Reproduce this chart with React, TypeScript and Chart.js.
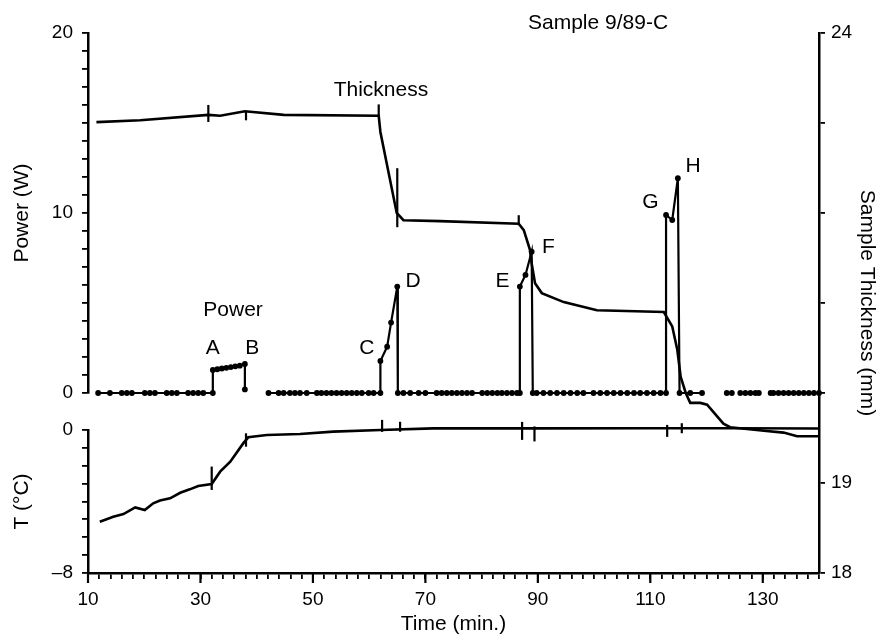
import React, { useEffect, useRef } from 'react';
import { Chart, registerables } from 'chart.js';

Chart.register(...registerables);

const FONT = '"Liberation Sans", Arial, Helvetica, sans-serif';

// ---- Data (time in minutes) ----
// Power (W); null = break in the trace
const powerReadings: [number, number | null][] = [
  [11.8, 0], [13.9, 0], [16.0, 0], [16.9, 0], [17.8, 0], [20.1, 0], [21.0, 0], [21.9, 0],
  [24.0, 0], [24.9, 0], [25.8, 0], [27.8, 0], [28.7, 0], [29.6, 0], [30.5, 0], [32.2, 0],
  [32.2, 1.28], [33.0, 1.32], [33.8, 1.36], [34.6, 1.4], [35.4, 1.44], [36.2, 1.48], [37.0, 1.52], [37.9, 1.61], [37.9, 0.2],
  [40.0, null],
  [42.1, 0], [43.9, 0], [44.8, 0], [45.9, 0], [46.8, 0], [47.7, 0], [48.9, 0], [50.7, 0], [51.5, 0], [52.4, 0],
  [53.3, 0], [54.2, 0], [55.1, 0], [56.0, 0], [56.9, 0], [57.8, 0], [58.7, 0], [59.9, 0], [60.8, 0], [62.0, 0],
  [62.0, 1.78], [63.2, 2.57], [63.9, 3.91], [65.0, 5.91], [65.1, 0],
  [66.1, 0], [67.3, 0], [68.8, 0], [70.0, 0], [72.0, 0], [72.9, 0], [73.8, 0], [74.7, 0], [75.6, 0], [76.5, 0],
  [77.4, 0], [78.3, 0], [80.1, 0], [81.0, 0], [81.9, 0], [82.8, 0], [83.6, 0], [84.5, 0], [85.4, 0], [86.3, 0], [86.8, 0],
  [86.8, 5.91], [87.8, 6.56], [88.9, 7.85], [89.1, 0],
  [89.8, 0], [91.0, 0], [92.2, 0], [93.4, 0], [94.6, 0], [95.8, 0], [97.0, 0], [98.1, 0], [99.9, 0], [101.1, 0],
  [102.3, 0], [103.5, 0], [104.7, 0], [105.9, 0], [107.1, 0], [108.2, 0], [109.4, 0], [110.6, 0], [111.8, 0], [112.8, 0],
  [112.8, 9.89], [113.9, 9.61], [114.9, 11.93], [115.2, 0],
  [117.1, 0], [119.2, 0], [121.0, null], [123.6, 0], [124.5, 0], [125.3, null],
  [126.0, 0], [126.9, 0], [127.8, 0], [128.7, 0], [129.3, 0], [130.4, null],
  [131.4, 0], [131.9, 0], [132.8, 0], [133.7, 0], [134.6, 0], [135.5, 0], [136.4, 0], [137.3, 0], [138.2, 0], [139.1, 0], [140.0, 0],
];

// Sample thickness (mm)
const thicknessReadings: [number, number][] = [
  [11.5, 23.01], [19.3, 23.03], [31.4, 23.09], [33.5, 23.08], [37.9, 23.13], [44.8, 23.09], [61.7, 23.08],
  [62.0, 22.9], [64.9, 22.0], [66.1, 21.92], [72.6, 21.91], [86.6, 21.88], [87.5, 21.81], [88.6, 21.59],
  [88.9, 21.44], [89.5, 21.22], [90.7, 21.11], [94.6, 21.01], [100.5, 20.92], [112.4, 20.9], [113.9, 20.74],
  [114.8, 20.48], [115.4, 20.18], [116.3, 20.0], [117.1, 19.89], [118.9, 19.89], [120.1, 19.87], [123.0, 19.66],
  [124.2, 19.62], [130.2, 19.58], [133.7, 19.56], [136.1, 19.52], [139.9, 19.52],
];

// Temperature (°C)
const temperatureReadings: [number, number][] = [
  [12.1, -5.13], [14.5, -4.85], [16.3, -4.7], [18.4, -4.33], [20.1, -4.48], [21.6, -4.1], [22.8, -3.95],
  [24.6, -3.82], [26.4, -3.51], [28.1, -3.32], [29.6, -3.13], [32.0, -3.02], [33.5, -2.33], [35.3, -1.77],
  [37.6, -0.75], [38.5, -0.41], [41.8, -0.28], [47.7, -0.22], [53.6, -0.09], [62.0, 0.0], [71.4, 0.09],
  [90.0, 0.09], [110.0, 0.1], [125.0, 0.1], [140.0, 0.08],
];

// Event markers (A..H) on the thickness and temperature traces
const thicknessMarkTimes = [31.4, 38.1, 61.7, 65.0, 86.6];
const thicknessMarkValues = [23.106, 23.08, 23.14, 22.17, 21.92];
const temperatureMarkTimes = [32.0, 38.1, 62.3, 65.5, 87.2, 89.4, 113.0, 115.6];
const temperatureMarkValues = [-2.7, -0.56, 0.23, 0.18, -0.05, -0.22, -0.05, 0.1];

// Marker half-lengths (px) – styling only
const thicknessMarkSizes = [8.5, 4.5, 6, 29.5, 5];
const temperatureMarkSizes = [11.7, 6.7, 6, 5, 9, 7.5, 6, 5];

// Annotations (time, power position)
const noteTexts = ['Sample 9/89-C', 'Thickness', 'Power', 'A', 'B', 'C', 'D', 'E', 'F', 'G', 'H'];
const noteTimes = [100.7, 62.1, 35.8, 32.2, 39.2, 59.6, 67.8, 83.7, 91.9, 110.0, 117.6];
const notePowers = [20.56, 16.8, 4.6, 2.5, 2.5, 2.5, 6.2, 6.2, 8.1, 10.6, 12.6];

// Axis ticks
const xMinorTicks = Array.from({ length: 66 }, (_, i) => 10 + 2 * i);
const xTickLabels = [10, 30, 50, 70, 90, 110, 130];
const powerTicks = Array.from({ length: 21 }, (_, i) => i);
const powerTickLabels = [0, 10, 20];
const tempTicks = [-8, -7, -6, -5, -4, -3, -2, -1, 0];
const tempTickLabels = [-8, 0];
const thickTicks = [18, 19, 20, 21, 22, 23, 24];
const thickTickLabels = [18, 19, 24];

const BLACK = '#000';

const annotationPlugin = {
  id: 'notes',
  afterDatasetsDraw(chart: any) {
    const { ctx, scales } = chart;
    const x = scales.x;
    const y = scales.yP;
    ctx.save();
    ctx.fillStyle = BLACK;
    ctx.font = `21px ${FONT}`;
    ctx.textAlign = 'center';
    ctx.textBaseline = 'middle';
    noteTexts.forEach((t, i) => {
      ctx.fillText(t, x.getPixelForValue(noteTimes[i]), y.getPixelForValue(notePowers[i]));
    });
    ctx.restore();
  },
};

const majorTickPlugin = {
  id: 'majorTicks',
  afterDraw(chart: any) {
    const { ctx, scales } = chart;
    const x = scales.x;
    ctx.save();
    ctx.strokeStyle = BLACK;
    ctx.lineWidth = 2.2;
    xTickLabels.forEach((v) => {
      const px = x.getPixelForValue(v);
      ctx.beginPath();
      ctx.moveTo(px, x.top);
      ctx.lineTo(px, x.top + 10);
      ctx.stroke();
    });
    ctx.restore();
  },
};

const tickFont = { family: FONT, size: 19 };
const titleFont = { family: FONT, size: 21 };

export default function App() {
  const ref = useRef<HTMLCanvasElement>(null);

  useEffect(() => {
    const canvas = ref.current;
    if (!canvas) return;

    const setTicks = (vals: number[]) => (s: any) => {
      s.ticks = vals.map((v) => ({ value: v }));
    };
    const labelIf = (labels: number[], fmt?: (v: number) => string) => (v: any) =>
      labels.includes(Number(v)) ? (fmt ? fmt(Number(v)) : String(v)) : '';

    const chart = new Chart(canvas, {
      type: 'line',
      data: {
        datasets: [
          {
            label: 'Power',
            yAxisID: 'yP',
            data: powerReadings.map(([t, w]) => ({ x: t, y: w })),
            borderColor: BLACK,
            backgroundColor: BLACK,
            borderWidth: 2.2,
            pointRadius: 2.9,
            pointBorderWidth: 0,
            pointBackgroundColor: BLACK,
            spanGaps: false,
            tension: 0,
            clip: false,
          } as any,
          {
            label: 'Thickness',
            yAxisID: 'yTh',
            data: thicknessReadings.map(([t, v]) => ({ x: t, y: v })),
            borderColor: BLACK,
            borderWidth: 2.6,
            pointRadius: 0,
            tension: 0,
            clip: false,
          } as any,
          {
            label: 'Temperature',
            yAxisID: 'yT',
            data: temperatureReadings.map(([t, v]) => ({ x: t, y: v })),
            borderColor: BLACK,
            borderWidth: 2.6,
            pointRadius: 0,
            tension: 0,
            clip: false,
          } as any,
          {
            label: 'Thickness events',
            yAxisID: 'yTh',
            data: thicknessMarkTimes.map((t, i) => ({ x: t, y: thicknessMarkValues[i] })),
            showLine: false,
            pointStyle: 'line',
            rotation: 90,
            pointRadius: thicknessMarkSizes,
            pointBorderColor: BLACK,
            pointBorderWidth: 2.2,
            clip: false,
          } as any,
          {
            label: 'Temperature events',
            yAxisID: 'yT',
            data: temperatureMarkTimes.map((t, i) => ({ x: t, y: temperatureMarkValues[i] })),
            showLine: false,
            pointStyle: 'line',
            rotation: 90,
            pointRadius: temperatureMarkSizes,
            pointBorderColor: BLACK,
            pointBorderWidth: 2.2,
            clip: false,
          } as any,
        ],
      },
      options: {
        responsive: false,
        animation: false,
        events: [],
        layout: { padding: { left: 0, right: 0, top: 33, bottom: 0 } },
        plugins: { legend: { display: false }, tooltip: { enabled: false } },
        scales: {
          x: {
            type: 'linear',
            position: 'bottom',
            min: 10,
            max: 140,
            afterBuildTicks: setTicks(xMinorTicks),
            afterFit: (s: any) => {
              s.height = 64;
            },
            ticks: {
              autoSkip: false,
              maxRotation: 0,
              padding: 9,
              color: BLACK,
              font: tickFont,
              callback: labelIf(xTickLabels),
            },
            grid: { drawOnChartArea: false, drawTicks: true, tickLength: 6, color: BLACK, lineWidth: 1.8 },
            border: { display: true, color: BLACK, width: 2.5 },
            title: { display: true, text: 'Time (min.)', color: BLACK, font: titleFont, padding: { top: 0, bottom: 0 } },
          },
          yT: {
            type: 'linear',
            position: 'left',
            stack: 'left',
            stackWeight: 143,
            min: -8,
            max: 0,
            afterBuildTicks: setTicks(tempTicks),
            afterFit: (s: any) => {
              s.width = 88;
            },
            ticks: {
              autoSkip: false,
              padding: 9,
              color: BLACK,
              font: tickFont,
              callback: labelIf(tempTickLabels, (v) => (v < 0 ? '\u2013' + Math.abs(v) : String(v))),
            },
            grid: { drawOnChartArea: false, drawTicks: true, tickLength: 6, color: BLACK, lineWidth: 1.8 },
            border: { display: true, color: BLACK, width: 2.5 },
            title: { display: true, text: 'T (°C)', color: BLACK, font: titleFont, padding: { top: 10, bottom: 0 } },
          },
          yGap: {
            type: 'linear',
            position: 'left',
            stack: 'left',
            stackWeight: 37,
            min: 0,
            max: 1,
            afterFit: (s: any) => {
              s.width = 88;
            },
            ticks: { display: false },
            grid: { display: false, drawTicks: false },
            border: { display: false },
          },
          yP: {
            type: 'linear',
            position: 'left',
            stack: 'left',
            stackWeight: 360,
            min: 0,
            max: 20,
            afterBuildTicks: setTicks(powerTicks),
            afterFit: (s: any) => {
              s.width = 88;
            },
            ticks: {
              autoSkip: false,
              padding: 9,
              color: BLACK,
              font: tickFont,
              callback: labelIf(powerTickLabels),
            },
            grid: { drawOnChartArea: false, drawTicks: true, tickLength: 6, color: BLACK, lineWidth: 1.8 },
            border: { display: true, color: BLACK, width: 2.5 },
            title: { display: true, text: 'Power (W)', color: BLACK, font: titleFont, padding: { top: 10, bottom: 0 } },
          },
          yTh: {
            type: 'linear',
            position: 'right',
            min: 18,
            max: 24,
            afterBuildTicks: setTicks(thickTicks),
            afterFit: (s: any) => {
              s.width = 58;
            },
            ticks: {
              autoSkip: false,
              padding: 6,
              color: BLACK,
              font: tickFont,
              callback: labelIf(thickTickLabels),
            },
            grid: { drawOnChartArea: false, drawTicks: true, tickLength: 6, color: BLACK, lineWidth: 1.8 },
            border: { display: true, color: BLACK, width: 2.5 },
            title: {
              display: true,
              text: 'Sample Thickness (mm)',
              color: BLACK,
              font: { family: FONT, size: 21, lineHeight: 1 },
              padding: { top: 0, bottom: 0 },
            },
          },
        } as any,
      },
      plugins: [annotationPlugin, majorTickPlugin],
    });

    return () => chart.destroy();
  }, []);

  return (
    <div style={{ position: 'fixed', left: 0, top: 0, width: 877, height: 637, background: '#fff' }}>
      <canvas ref={ref} width={877} height={637} style={{ display: 'block', width: 877, height: 637 }} />
    </div>
  );
}
